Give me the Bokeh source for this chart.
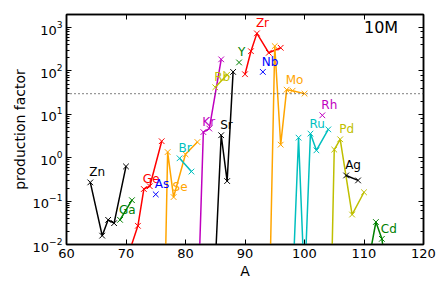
from bokeh.plotting import figure
from bokeh.models import Range1d, LinearAxis, LogAxis, Span, Label, ColumnDataSource, SingleIntervalTicker, LogTicker, CustomJSTickFormatter
from bokeh.embed import file_html
from bokeh.resources import INLINE
from bokeh.core.properties import value

# ---- data: mass number A and production factor per element ----
zn_A = [64, 66, 67, 68, 70]
zn_pf = [0.27, 0.016, 0.037, 0.031, 0.63]
ga_A = [69, 71]
ga_pf = [0.037, 0.105]
ge_A = [70, 72, 73, 74, 76]
ge_pf = [0.004, 0.027, 0.19, 0.22, 2.4]
as_A = [75]
as_pf = [0.143]
se_A = [76, 77, 78, 80, 82]
se_pf = [2e-7, 1.35, 0.124, 1.2, 2.3]
br_A = [79, 81]
br_pf = [0.97, 0.48]
kr_A = [82, 83, 84, 86]
kr_pf = [1.8e-4, 3.9, 4.7, 185]
rb_A = [85, 87]
rb_pf = [42, 82]
sr_A = [84, 86, 87, 88]
sr_pf = [3.5e-6, 3.3, 0.29, 95]
y_A = [89]
y_pf = [157]
zr_A = [90, 91, 92, 94, 96]
zr_pf = [84, 285, 735, 262, 342]
nb_A = [93]
nb_pf = [95]
mo_A = [94, 95, 96, 97, 98, 100]
mo_pf = [1e-4, 374, 2.0, 37, 35, 30]
ru_A = [98, 99, 100, 101, 102, 104]
ru_pf = [1.1e-3, 2.9, 1.1e-3, 3.6, 1.48, 4.5]
rh_A = [103]
rh_pf = [9.5]
pd_A = [104, 105, 106, 108, 110]
pd_pf = [5e-7, 1.54, 2.66, 0.049, 0.16]
ag_A = [107, 109]
ag_pf = [0.39, 0.30]
cd_A = [111, 112, 113, 114]
cd_pf = [6e-3, 0.033, 0.0135, 1.6e-3]

elements = ["Zn", "Ga", "Ge", "As", "Se", "Br", "Kr", "Rb", "Sr",
            "Y", "Zr", "Nb", "Mo", "Ru", "Rh", "Pd", "Ag", "Cd"]
label_isotope = [64, 69, 73, 75, 78, 79, 83, 85, 86, 89, 92, 93, 97, 101, 103, 106, 107, 113]
threshold = 30
model_name = "10M"

series = [(zn_A, zn_pf), (ga_A, ga_pf), (ge_A, ge_pf), (as_A, as_pf), (se_A, se_pf),
          (br_A, br_pf), (kr_A, kr_pf), (rb_A, rb_pf), (sr_A, sr_pf), (y_A, y_pf),
          (zr_A, zr_pf), (nb_A, nb_pf), (mo_A, mo_pf), (ru_A, ru_pf), (rh_A, rh_pf),
          (pd_A, pd_pf), (ag_A, ag_pf), (cd_A, cd_pf)]

palette = ["#000000", "#008000", "#ff0000", "#0000ff", "#ffa500", "#00bfbf", "#bf00bf", "#bfbf00"]
FONT = "DejaVu Sans"

p = figure(width=436, height=296, x_range=Range1d(60, 120), y_range=Range1d(0.01, 2000),
           y_axis_type="log", output_backend="svg", toolbar_location=None,
           title_location=None, min_border_left=66, min_border_right=13,
           min_border_top=14, min_border_bottom=52)
p.grid.visible = False
p.outline_line_color = "black"
p.outline_line_width = 1.5
p.background_fill_color = "white"
p.border_fill_color = "white"

for xa in p.xaxis:
    xa.ticker = SingleIntervalTicker(interval=10, num_minor_ticks=0)
    xa.axis_label = "A"
for ya in p.yaxis:
    ya.axis_label = "production factor"

for ax in p.xaxis + p.yaxis:
    ax.major_tick_in = 5
    ax.major_tick_out = 0
    ax.minor_tick_in = 3
    ax.minor_tick_out = 0
    ax.axis_line_width = 1.5
    ax.axis_line_color = "black"
    ax.major_tick_line_color = "black"
    ax.minor_tick_line_color = "black"
    ax.major_label_text_font = FONT
    ax.major_label_text_font_size = "13px"
    ax.major_label_text_color = "black"
    ax.axis_label_text_font = FONT
    ax.axis_label_text_font_size = "14px"
    ax.axis_label_text_font_style = "normal"
    ax.axis_label_text_color = "black"
    ax.major_label_standoff = 4
    ax.axis_label_standoff = 2
p.xaxis.minor_tick_line_color = None

blank = CustomJSTickFormatter(code="return ''")
top = LinearAxis(ticker=SingleIntervalTicker(interval=10, num_minor_ticks=0), formatter=blank,
                 major_tick_in=5, major_tick_out=0, minor_tick_line_color=None,
                 axis_line_width=1.5, major_label_text_font_size="0px", major_label_standoff=0)
p.add_layout(top, "above")
right = LogAxis(ticker=LogTicker(), formatter=blank, major_tick_in=5, major_tick_out=0,
                minor_tick_in=3, minor_tick_out=0, axis_line_width=1.5,
                major_label_text_font_size="0px", major_label_standoff=0)
p.add_layout(right, "right")

p.add_layout(Span(location=threshold, dimension="width", line_color="#333333",
                  line_dash="1 3", line_width=1.2))

lab_x, lab_y, lab_t, lab_c = [], [], [], []
for i, ((A, pf), el) in enumerate(zip(series, elements)):
    c = palette[i % len(palette)]
    src = ColumnDataSource(dict(A=A, pf=pf))
    p.line("A", "pf", source=src, line_color=c, line_width=1.5)
    p.scatter("A", "pf", source=src, marker="x", size=8, line_color=c, line_width=1)
    k = A.index(label_isotope[i])
    lab_x.append(A[k]); lab_y.append(pf[k]); lab_t.append(el); lab_c.append(c)

lsrc = ColumnDataSource(dict(x=lab_x, y=lab_y, t=lab_t, c=lab_c))
p.text("x", "y", text="t", source=lsrc, text_color="c", text_font=value(FONT),
       text_font_size="12px", text_align="left", text_baseline="middle",
       x_offset=-1, y_offset=-10)

p.add_layout(Label(x=110, y=1000, text=model_name, text_font=FONT, text_font_size="16px",
                   text_baseline="middle", text_color="black"))

open("out.html", "w").write(file_html(p, INLINE))
